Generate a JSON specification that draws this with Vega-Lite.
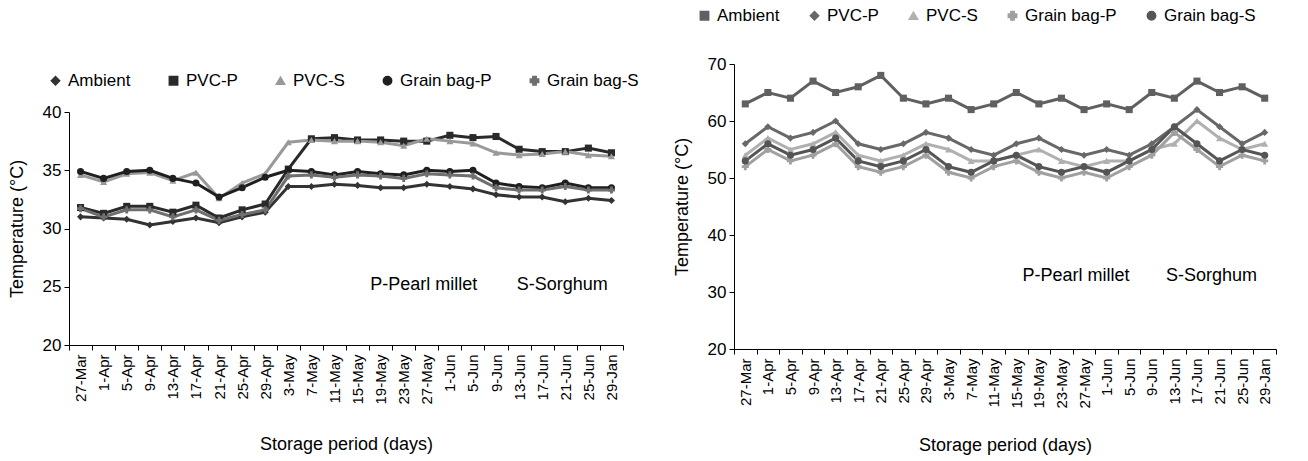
{
  "$schema": "https://vega.github.io/schema/vega-lite/v6.json",
  "padding": {"left": 8, "top": 7, "right": 5, "bottom": 3},
  "config": {
    "font": "Liberation Sans",
    "view": {"stroke": null},
    "axis": {"grid": false, "domainColor": "#000", "tickColor": "#000", "labelColor": "#000", "titleColor": "#000", "titleFontWeight": "normal", "labelFontSize": 17, "titleFontSize": 18, "tickSize": 5, "domainWidth": 1, "tickWidth": 1},
    "axisX": {"labelFontSize": 15},
    "legend": {"labelFontSize": 17, "labelColor": "#000", "symbolSize": 70, "symbolStrokeWidth": 1.5, "labelOffset": 4}
  },
  "datasets": {
    "left": [
      {"date":"27-Mar","series":"Ambient","temp":31.0},{"date":"1-Apr","series":"Ambient","temp":30.9},{"date":"5-Apr","series":"Ambient","temp":30.8},{"date":"9-Apr","series":"Ambient","temp":30.3},{"date":"13-Apr","series":"Ambient","temp":30.6},{"date":"17-Apr","series":"Ambient","temp":30.9},{"date":"21-Apr","series":"Ambient","temp":30.5},{"date":"25-Apr","series":"Ambient","temp":31.0},{"date":"29-Apr","series":"Ambient","temp":31.4},{"date":"3-May","series":"Ambient","temp":33.6},{"date":"7-May","series":"Ambient","temp":33.6},{"date":"11-May","series":"Ambient","temp":33.8},{"date":"15-May","series":"Ambient","temp":33.7},{"date":"19-May","series":"Ambient","temp":33.5},{"date":"23-May","series":"Ambient","temp":33.5},{"date":"27-May","series":"Ambient","temp":33.8},{"date":"1-Jun","series":"Ambient","temp":33.6},{"date":"5-Jun","series":"Ambient","temp":33.4},{"date":"9-Jun","series":"Ambient","temp":32.9},{"date":"13-Jun","series":"Ambient","temp":32.7},{"date":"17-Jun","series":"Ambient","temp":32.7},{"date":"21-Jun","series":"Ambient","temp":32.3},{"date":"25-Jun","series":"Ambient","temp":32.6},{"date":"29-Jan","series":"Ambient","temp":32.4},
      {"date":"27-Mar","series":"PVC-P","temp":31.8},{"date":"1-Apr","series":"PVC-P","temp":31.3},{"date":"5-Apr","series":"PVC-P","temp":31.9},{"date":"9-Apr","series":"PVC-P","temp":31.9},{"date":"13-Apr","series":"PVC-P","temp":31.4},{"date":"17-Apr","series":"PVC-P","temp":32.0},{"date":"21-Apr","series":"PVC-P","temp":30.9},{"date":"25-Apr","series":"PVC-P","temp":31.6},{"date":"29-Apr","series":"PVC-P","temp":32.1},{"date":"3-May","series":"PVC-P","temp":35.1},{"date":"7-May","series":"PVC-P","temp":37.7},{"date":"11-May","series":"PVC-P","temp":37.8},{"date":"15-May","series":"PVC-P","temp":37.6},{"date":"19-May","series":"PVC-P","temp":37.6},{"date":"23-May","series":"PVC-P","temp":37.5},{"date":"27-May","series":"PVC-P","temp":37.5},{"date":"1-Jun","series":"PVC-P","temp":38.0},{"date":"5-Jun","series":"PVC-P","temp":37.8},{"date":"9-Jun","series":"PVC-P","temp":37.9},{"date":"13-Jun","series":"PVC-P","temp":36.8},{"date":"17-Jun","series":"PVC-P","temp":36.6},{"date":"21-Jun","series":"PVC-P","temp":36.6},{"date":"25-Jun","series":"PVC-P","temp":36.9},{"date":"29-Jan","series":"PVC-P","temp":36.5},
      {"date":"27-Mar","series":"PVC-S","temp":34.6},{"date":"1-Apr","series":"PVC-S","temp":34.0},{"date":"5-Apr","series":"PVC-S","temp":34.7},{"date":"9-Apr","series":"PVC-S","temp":34.8},{"date":"13-Apr","series":"PVC-S","temp":34.1},{"date":"17-Apr","series":"PVC-S","temp":34.8},{"date":"21-Apr","series":"PVC-S","temp":32.6},{"date":"25-Apr","series":"PVC-S","temp":33.9},{"date":"29-Apr","series":"PVC-S","temp":34.7},{"date":"3-May","series":"PVC-S","temp":37.4},{"date":"7-May","series":"PVC-S","temp":37.6},{"date":"11-May","series":"PVC-S","temp":37.5},{"date":"15-May","series":"PVC-S","temp":37.5},{"date":"19-May","series":"PVC-S","temp":37.4},{"date":"23-May","series":"PVC-S","temp":37.1},{"date":"27-May","series":"PVC-S","temp":37.7},{"date":"1-Jun","series":"PVC-S","temp":37.5},{"date":"5-Jun","series":"PVC-S","temp":37.3},{"date":"9-Jun","series":"PVC-S","temp":36.5},{"date":"13-Jun","series":"PVC-S","temp":36.3},{"date":"17-Jun","series":"PVC-S","temp":36.4},{"date":"21-Jun","series":"PVC-S","temp":36.6},{"date":"25-Jun","series":"PVC-S","temp":36.3},{"date":"29-Jan","series":"PVC-S","temp":36.2},
      {"date":"27-Mar","series":"Grain bag-P","temp":34.9},{"date":"1-Apr","series":"Grain bag-P","temp":34.3},{"date":"5-Apr","series":"Grain bag-P","temp":34.9},{"date":"9-Apr","series":"Grain bag-P","temp":35.0},{"date":"13-Apr","series":"Grain bag-P","temp":34.3},{"date":"17-Apr","series":"Grain bag-P","temp":33.9},{"date":"21-Apr","series":"Grain bag-P","temp":32.7},{"date":"25-Apr","series":"Grain bag-P","temp":33.5},{"date":"29-Apr","series":"Grain bag-P","temp":34.4},{"date":"3-May","series":"Grain bag-P","temp":35.0},{"date":"7-May","series":"Grain bag-P","temp":34.9},{"date":"11-May","series":"Grain bag-P","temp":34.6},{"date":"15-May","series":"Grain bag-P","temp":34.9},{"date":"19-May","series":"Grain bag-P","temp":34.7},{"date":"23-May","series":"Grain bag-P","temp":34.6},{"date":"27-May","series":"Grain bag-P","temp":35.0},{"date":"1-Jun","series":"Grain bag-P","temp":34.9},{"date":"5-Jun","series":"Grain bag-P","temp":35.0},{"date":"9-Jun","series":"Grain bag-P","temp":33.9},{"date":"13-Jun","series":"Grain bag-P","temp":33.6},{"date":"17-Jun","series":"Grain bag-P","temp":33.5},{"date":"21-Jun","series":"Grain bag-P","temp":33.9},{"date":"25-Jun","series":"Grain bag-P","temp":33.5},{"date":"29-Jan","series":"Grain bag-P","temp":33.5},
      {"date":"27-Mar","series":"Grain bag-S","temp":31.7},{"date":"1-Apr","series":"Grain bag-S","temp":31.0},{"date":"5-Apr","series":"Grain bag-S","temp":31.6},{"date":"9-Apr","series":"Grain bag-S","temp":31.6},{"date":"13-Apr","series":"Grain bag-S","temp":31.0},{"date":"17-Apr","series":"Grain bag-S","temp":31.6},{"date":"21-Apr","series":"Grain bag-S","temp":30.7},{"date":"25-Apr","series":"Grain bag-S","temp":31.2},{"date":"29-Apr","series":"Grain bag-S","temp":31.6},{"date":"3-May","series":"Grain bag-S","temp":34.5},{"date":"7-May","series":"Grain bag-S","temp":34.6},{"date":"11-May","series":"Grain bag-S","temp":34.4},{"date":"15-May","series":"Grain bag-S","temp":34.6},{"date":"19-May","series":"Grain bag-S","temp":34.5},{"date":"23-May","series":"Grain bag-S","temp":34.3},{"date":"27-May","series":"Grain bag-S","temp":34.7},{"date":"1-Jun","series":"Grain bag-S","temp":34.6},{"date":"5-Jun","series":"Grain bag-S","temp":34.5},{"date":"9-Jun","series":"Grain bag-S","temp":33.5},{"date":"13-Jun","series":"Grain bag-S","temp":33.3},{"date":"17-Jun","series":"Grain bag-S","temp":33.3},{"date":"21-Jun","series":"Grain bag-S","temp":33.6},{"date":"25-Jun","series":"Grain bag-S","temp":33.3},{"date":"29-Jan","series":"Grain bag-S","temp":33.3}
    ],
    "right": [
      {"date":"27-Mar","series":"Ambient","temp":63},{"date":"1-Apr","series":"Ambient","temp":65},{"date":"5-Apr","series":"Ambient","temp":64},{"date":"9-Apr","series":"Ambient","temp":67},{"date":"13-Apr","series":"Ambient","temp":65},{"date":"17-Apr","series":"Ambient","temp":66},{"date":"21-Apr","series":"Ambient","temp":68},{"date":"25-Apr","series":"Ambient","temp":64},{"date":"29-Apr","series":"Ambient","temp":63},{"date":"3-May","series":"Ambient","temp":64},{"date":"7-May","series":"Ambient","temp":62},{"date":"11-May","series":"Ambient","temp":63},{"date":"15-May","series":"Ambient","temp":65},{"date":"19-May","series":"Ambient","temp":63},{"date":"23-May","series":"Ambient","temp":64},{"date":"27-May","series":"Ambient","temp":62},{"date":"1-Jun","series":"Ambient","temp":63},{"date":"5-Jun","series":"Ambient","temp":62},{"date":"9-Jun","series":"Ambient","temp":65},{"date":"13-Jun","series":"Ambient","temp":64},{"date":"17-Jun","series":"Ambient","temp":67},{"date":"21-Jun","series":"Ambient","temp":65},{"date":"25-Jun","series":"Ambient","temp":66},{"date":"29-Jan","series":"Ambient","temp":64},
      {"date":"27-Mar","series":"PVC-P","temp":56},{"date":"1-Apr","series":"PVC-P","temp":59},{"date":"5-Apr","series":"PVC-P","temp":57},{"date":"9-Apr","series":"PVC-P","temp":58},{"date":"13-Apr","series":"PVC-P","temp":60},{"date":"17-Apr","series":"PVC-P","temp":56},{"date":"21-Apr","series":"PVC-P","temp":55},{"date":"25-Apr","series":"PVC-P","temp":56},{"date":"29-Apr","series":"PVC-P","temp":58},{"date":"3-May","series":"PVC-P","temp":57},{"date":"7-May","series":"PVC-P","temp":55},{"date":"11-May","series":"PVC-P","temp":54},{"date":"15-May","series":"PVC-P","temp":56},{"date":"19-May","series":"PVC-P","temp":57},{"date":"23-May","series":"PVC-P","temp":55},{"date":"27-May","series":"PVC-P","temp":54},{"date":"1-Jun","series":"PVC-P","temp":55},{"date":"5-Jun","series":"PVC-P","temp":54},{"date":"9-Jun","series":"PVC-P","temp":56},{"date":"13-Jun","series":"PVC-P","temp":59},{"date":"17-Jun","series":"PVC-P","temp":62},{"date":"21-Jun","series":"PVC-P","temp":59},{"date":"25-Jun","series":"PVC-P","temp":56},{"date":"29-Jan","series":"PVC-P","temp":58},
      {"date":"27-Mar","series":"PVC-S","temp":54},{"date":"1-Apr","series":"PVC-S","temp":57},{"date":"5-Apr","series":"PVC-S","temp":55},{"date":"9-Apr","series":"PVC-S","temp":56},{"date":"13-Apr","series":"PVC-S","temp":58},{"date":"17-Apr","series":"PVC-S","temp":54},{"date":"21-Apr","series":"PVC-S","temp":53},{"date":"25-Apr","series":"PVC-S","temp":54},{"date":"29-Apr","series":"PVC-S","temp":56},{"date":"3-May","series":"PVC-S","temp":55},{"date":"7-May","series":"PVC-S","temp":53},{"date":"11-May","series":"PVC-S","temp":53},{"date":"15-May","series":"PVC-S","temp":54},{"date":"19-May","series":"PVC-S","temp":55},{"date":"23-May","series":"PVC-S","temp":53},{"date":"27-May","series":"PVC-S","temp":52},{"date":"1-Jun","series":"PVC-S","temp":53},{"date":"5-Jun","series":"PVC-S","temp":53},{"date":"9-Jun","series":"PVC-S","temp":55},{"date":"13-Jun","series":"PVC-S","temp":56},{"date":"17-Jun","series":"PVC-S","temp":60},{"date":"21-Jun","series":"PVC-S","temp":57},{"date":"25-Jun","series":"PVC-S","temp":55},{"date":"29-Jan","series":"PVC-S","temp":56},
      {"date":"27-Mar","series":"Grain bag-P","temp":52},{"date":"1-Apr","series":"Grain bag-P","temp":55},{"date":"5-Apr","series":"Grain bag-P","temp":53},{"date":"9-Apr","series":"Grain bag-P","temp":54},{"date":"13-Apr","series":"Grain bag-P","temp":56},{"date":"17-Apr","series":"Grain bag-P","temp":52},{"date":"21-Apr","series":"Grain bag-P","temp":51},{"date":"25-Apr","series":"Grain bag-P","temp":52},{"date":"29-Apr","series":"Grain bag-P","temp":54},{"date":"3-May","series":"Grain bag-P","temp":51},{"date":"7-May","series":"Grain bag-P","temp":50},{"date":"11-May","series":"Grain bag-P","temp":52},{"date":"15-May","series":"Grain bag-P","temp":53},{"date":"19-May","series":"Grain bag-P","temp":51},{"date":"23-May","series":"Grain bag-P","temp":50},{"date":"27-May","series":"Grain bag-P","temp":51},{"date":"1-Jun","series":"Grain bag-P","temp":50},{"date":"5-Jun","series":"Grain bag-P","temp":52},{"date":"9-Jun","series":"Grain bag-P","temp":54},{"date":"13-Jun","series":"Grain bag-P","temp":58},{"date":"17-Jun","series":"Grain bag-P","temp":55},{"date":"21-Jun","series":"Grain bag-P","temp":52},{"date":"25-Jun","series":"Grain bag-P","temp":54},{"date":"29-Jan","series":"Grain bag-P","temp":53},
      {"date":"27-Mar","series":"Grain bag-S","temp":53},{"date":"1-Apr","series":"Grain bag-S","temp":56},{"date":"5-Apr","series":"Grain bag-S","temp":54},{"date":"9-Apr","series":"Grain bag-S","temp":55},{"date":"13-Apr","series":"Grain bag-S","temp":57},{"date":"17-Apr","series":"Grain bag-S","temp":53},{"date":"21-Apr","series":"Grain bag-S","temp":52},{"date":"25-Apr","series":"Grain bag-S","temp":53},{"date":"29-Apr","series":"Grain bag-S","temp":55},{"date":"3-May","series":"Grain bag-S","temp":52},{"date":"7-May","series":"Grain bag-S","temp":51},{"date":"11-May","series":"Grain bag-S","temp":53},{"date":"15-May","series":"Grain bag-S","temp":54},{"date":"19-May","series":"Grain bag-S","temp":52},{"date":"23-May","series":"Grain bag-S","temp":51},{"date":"27-May","series":"Grain bag-S","temp":52},{"date":"1-Jun","series":"Grain bag-S","temp":51},{"date":"5-Jun","series":"Grain bag-S","temp":53},{"date":"9-Jun","series":"Grain bag-S","temp":55},{"date":"13-Jun","series":"Grain bag-S","temp":59},{"date":"17-Jun","series":"Grain bag-S","temp":56},{"date":"21-Jun","series":"Grain bag-S","temp":53},{"date":"25-Jun","series":"Grain bag-S","temp":55},{"date":"29-Jan","series":"Grain bag-S","temp":54}
    ],
    "leftNotes": [
      {"date":"27-May","temp":25.15,"label":"P-Pearl millet"},
      {"date":"21-Jun","temp":25.15,"label":"S-Sorghum"}
    ],
    "rightNotes": [
      {"date":"27-May","temp":32.8,"label":"P-Pearl millet"},
      {"date":"21-Jun","temp":32.8,"label":"S-Sorghum"}
    ]
  },
  "hconcat": [
    {
      "spacing": 0,
      "vconcat": [
        {
          "width": 554,
          "height": 39,
          "data": {"values": []},
          "mark": {"type": "point", "opacity": 0},
          "encoding": {}
        },
        {
          "width": 554,
          "height": 233,
          "layer": [
            {
              "data": {"name": "left"},
              "mark": {"type": "line", "strokeWidth": 3},
              "encoding": {
                "x": {"field": "date", "type": "ordinal", "bandPosition": 0.5, "sort": ["27-Mar","1-Apr","5-Apr","9-Apr","13-Apr","17-Apr","21-Apr","25-Apr","29-Apr","3-May","7-May","11-May","15-May","19-May","23-May","27-May","1-Jun","5-Jun","9-Jun","13-Jun","17-Jun","21-Jun","25-Jun","29-Jan"], "scale": {"type": "band", "paddingInner": 0, "paddingOuter": 0, "domain": ["27-Mar","1-Apr","5-Apr","9-Apr","13-Apr","17-Apr","21-Apr","25-Apr","29-Apr","3-May","7-May","11-May","15-May","19-May","23-May","27-May","1-Jun","5-Jun","9-Jun","13-Jun","17-Jun","21-Jun","25-Jun","29-Jan"]}, "axis": {"title": "Storage period (days)", "labelAngle": -90, "labelAlign": "right", "labelBaseline": "middle", "tickBand": "extent", "titlePadding": 31, "labelPadding": 4}},
                "y": {"field": "temp", "type": "quantitative", "scale": {"domain": [20, 40]}, "axis": {"values": [20, 25, 30, 35, 40], "title": "Temperature (°C)", "titlePadding": 16, "labelPadding": 3}},
                "color": {"field": "series", "type": "nominal", "scale": {"domain": ["Ambient","PVC-P","PVC-S","Grain bag-P","Grain bag-S"], "range": ["#333333","#2a2a2a","#999999","#1f1f1f","#6f6f6f"]}, "legend": {"title": null, "orient": "none", "direction": "horizontal", "legendX": -22, "legendY": 8, "columnPadding": 34}}
              }
            },
            {
              "data": {"name": "left"},
              "mark": {"type": "point", "filled": true, "size": 50, "opacity": 1},
              "encoding": {
                "x": {"field": "date", "type": "ordinal", "bandPosition": 0.5, "sort": ["27-Mar","1-Apr","5-Apr","9-Apr","13-Apr","17-Apr","21-Apr","25-Apr","29-Apr","3-May","7-May","11-May","15-May","19-May","23-May","27-May","1-Jun","5-Jun","9-Jun","13-Jun","17-Jun","21-Jun","25-Jun","29-Jan"]},
                "y": {"field": "temp", "type": "quantitative"},
                "color": {"field": "series", "type": "nominal", "scale": {"domain": ["Ambient","PVC-P","PVC-S","Grain bag-P","Grain bag-S"], "range": ["#333333","#2a2a2a","#999999","#1f1f1f","#6f6f6f"]}, "legend": {"title": null, "orient": "none", "direction": "horizontal", "legendX": -22, "legendY": 8, "columnPadding": 34}},
                "shape": {"field": "series", "type": "nominal", "scale": {"domain": ["Ambient","PVC-P","PVC-S","Grain bag-P","Grain bag-S"], "range": ["diamond","square","triangle-up","circle","cross"]}, "legend": {"title": null, "orient": "none", "direction": "horizontal", "legendX": -22, "legendY": 8, "columnPadding": 34}}
              }
            },
            {
              "data": {"name": "leftNotes"},
              "mark": {"type": "text", "align": "center", "baseline": "middle", "fontSize": 18, "color": "#000", "dx": -3},
              "encoding": {
                "x": {"field": "date", "type": "ordinal", "bandPosition": 0.5, "sort": ["27-Mar","1-Apr","5-Apr","9-Apr","13-Apr","17-Apr","21-Apr","25-Apr","29-Apr","3-May","7-May","11-May","15-May","19-May","23-May","27-May","1-Jun","5-Jun","9-Jun","13-Jun","17-Jun","21-Jun","25-Jun","29-Jan"]},
                "y": {"field": "temp", "type": "quantitative"},
                "text": {"field": "label"}
              }
            }
          ]
        }
      ]
    },
    {
      "width": 542,
      "height": 285,
      "layer": [
        {
          "data": {"name": "right"},
          "mark": {"type": "line", "strokeWidth": 3},
          "encoding": {
            "x": {"field": "date", "type": "ordinal", "bandPosition": 0.5, "sort": ["27-Mar","1-Apr","5-Apr","9-Apr","13-Apr","17-Apr","21-Apr","25-Apr","29-Apr","3-May","7-May","11-May","15-May","19-May","23-May","27-May","1-Jun","5-Jun","9-Jun","13-Jun","17-Jun","21-Jun","25-Jun","29-Jan"], "scale": {"type": "band", "paddingInner": 0, "paddingOuter": 0, "domain": ["27-Mar","1-Apr","5-Apr","9-Apr","13-Apr","17-Apr","21-Apr","25-Apr","29-Apr","3-May","7-May","11-May","15-May","19-May","23-May","27-May","1-Jun","5-Jun","9-Jun","13-Jun","17-Jun","21-Jun","25-Jun","29-Jan"]}, "axis": {"title": "Storage period (days)", "labelAngle": -90, "labelAlign": "right", "labelBaseline": "middle", "tickBand": "extent", "titlePadding": 28, "labelPadding": 4}},
            "y": {"field": "temp", "type": "quantitative", "scale": {"domain": [20, 70]}, "axis": {"values": [20, 25, 30, 35, 40, 45, 50, 55, 60, 65, 70], "title": "Temperature (°C)", "titlePadding": 16, "labelPadding": 3}},
            "color": {"field": "series", "type": "nominal", "scale": {"domain": ["Ambient","PVC-P","PVC-S","Grain bag-P","Grain bag-S"], "range": ["#606060","#686868","#b0b0b0","#a0a0a0","#555555"]}, "legend": {"title": null, "orient": "none", "direction": "horizontal", "legendX": -38, "legendY": -57, "columnPadding": 26}}
          }
        },
        {
          "data": {"name": "right"},
          "mark": {"type": "point", "filled": true, "size": 50, "opacity": 1},
          "encoding": {
            "x": {"field": "date", "type": "ordinal", "bandPosition": 0.5, "sort": ["27-Mar","1-Apr","5-Apr","9-Apr","13-Apr","17-Apr","21-Apr","25-Apr","29-Apr","3-May","7-May","11-May","15-May","19-May","23-May","27-May","1-Jun","5-Jun","9-Jun","13-Jun","17-Jun","21-Jun","25-Jun","29-Jan"]},
            "y": {"field": "temp", "type": "quantitative"},
            "color": {"field": "series", "type": "nominal", "scale": {"domain": ["Ambient","PVC-P","PVC-S","Grain bag-P","Grain bag-S"], "range": ["#606060","#686868","#b0b0b0","#a0a0a0","#555555"]}, "legend": {"title": null, "orient": "none", "direction": "horizontal", "legendX": -38, "legendY": -57, "columnPadding": 26}},
            "shape": {"field": "series", "type": "nominal", "scale": {"domain": ["Ambient","PVC-P","PVC-S","Grain bag-P","Grain bag-S"], "range": ["square","diamond","triangle-up","cross","circle"]}, "legend": {"title": null, "orient": "none", "direction": "horizontal", "legendX": -38, "legendY": -57, "columnPadding": 26}}
          }
        },
        {
          "data": {"name": "rightNotes"},
          "mark": {"type": "text", "align": "center", "baseline": "middle", "fontSize": 18, "color": "#000", "dx": -8},
          "encoding": {
            "x": {"field": "date", "type": "ordinal", "bandPosition": 0.5, "sort": ["27-Mar","1-Apr","5-Apr","9-Apr","13-Apr","17-Apr","21-Apr","25-Apr","29-Apr","3-May","7-May","11-May","15-May","19-May","23-May","27-May","1-Jun","5-Jun","9-Jun","13-Jun","17-Jun","21-Jun","25-Jun","29-Jan"]},
            "y": {"field": "temp", "type": "quantitative"},
            "text": {"field": "label"}
          }
        }
      ]
    }
  ],
  "spacing": 34,
  "resolve": {"scale": {"color": "independent", "shape": "independent", "x": "independent", "y": "independent"}, "legend": {"color": "independent", "shape": "independent"}}
}
